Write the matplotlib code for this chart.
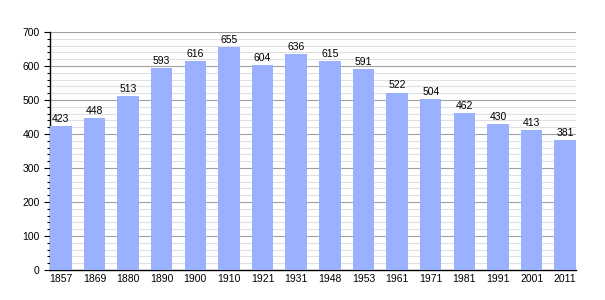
import numpy as np
import matplotlib.pyplot as plt
from matplotlib.ticker import MultipleLocator

years = ['1857', '1869', '1880', '1890', '1900', '1910', '1921', '1931',
         '1948', '1953', '1961', '1971', '1981', '1991', '2001', '2011']
population = [423, 448, 513, 593, 616, 655, 604, 636, 615, 591, 522, 504, 462, 430, 413, 381]

plt.rcParams['font.family'] = ['Liberation Sans', 'DejaVu Sans']

fig = plt.figure(figsize=(6.05, 3.0), dpi=100)
ax = fig.add_axes([50 / 605, 30 / 300, 526 / 605, 238 / 300])

x = np.arange(len(years))
w = 0.64
ax.bar(x, population, width=w, color='#99b1ff', zorder=3)
for xi, v in zip(x, population):
    ax.text(xi, v + 6, str(v), ha='center', va='bottom', fontsize=7.5, zorder=4)

ax.set_xlim(-w / 2, len(years) - 1 + w / 2)
ax.set_ylim(0, 700)
ax.set_xticks(x)
ax.set_xticklabels(years)
ax.yaxis.set_major_locator(MultipleLocator(100))
ax.yaxis.set_minor_locator(MultipleLocator(20))
ax.grid(axis='y', which='major', color='#a0a0a0', linewidth=0.8, zorder=1)
ax.grid(axis='y', which='minor', color='#e0e0e0', linewidth=0.8, zorder=0)
ax.tick_params(axis='x', length=0, labelsize=7.5, pad=3)
ax.tick_params(axis='y', which='major', length=4, width=0.8, labelsize=7.5)
ax.tick_params(axis='y', which='minor', length=2.5, width=0.8)
for s in ['top', 'right']:
    ax.spines[s].set_visible(False)
for s in ['left', 'bottom']:
    ax.spines[s].set_linewidth(1.0)

fig.savefig('out.png', dpi=100)
